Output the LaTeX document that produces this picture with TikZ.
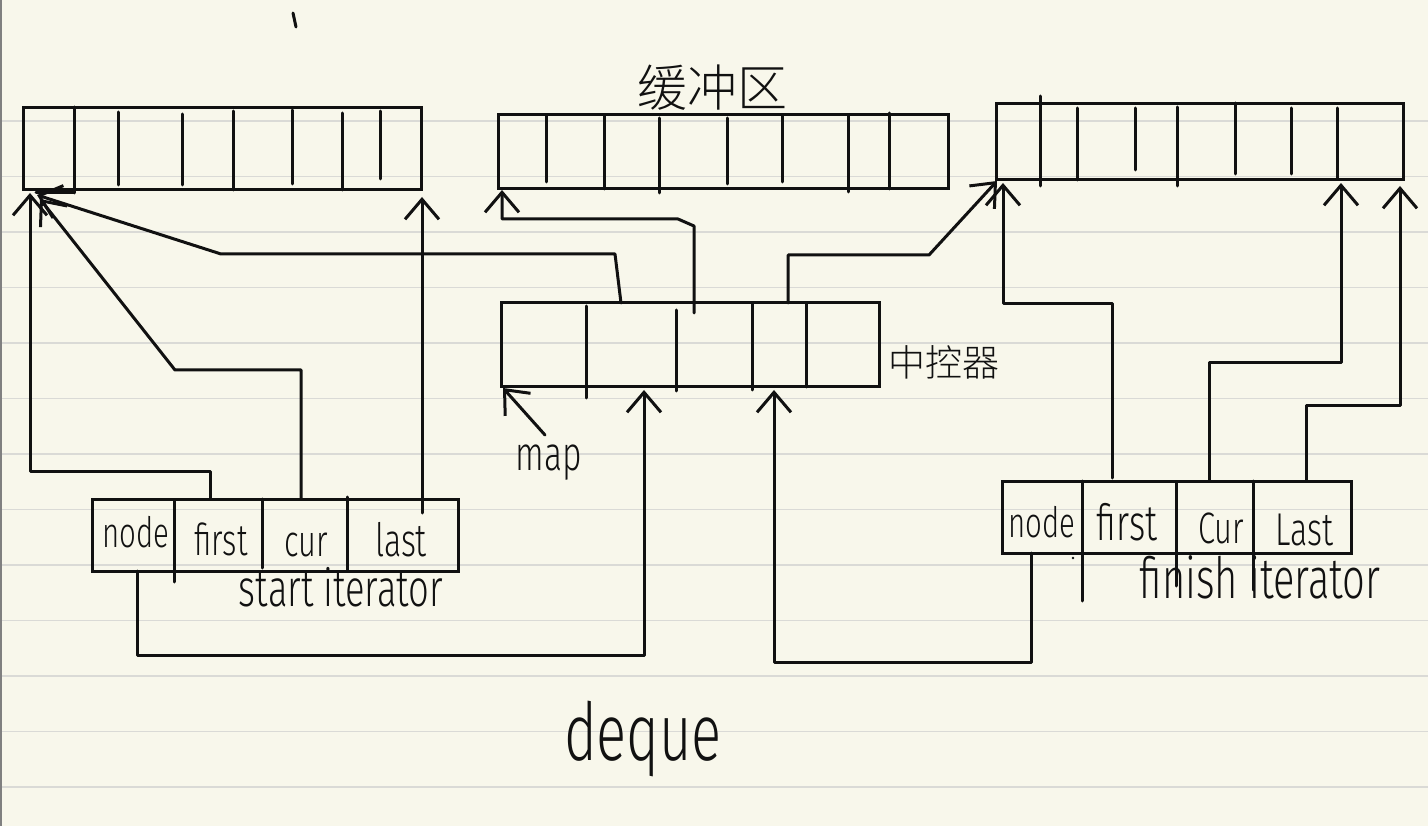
\documentclass[tikz,border=0pt]{standalone}
\usepackage{fontspec}
\setmainfont{Fira Sans}
\newfontfamily\hand{Fira Sans Light}[FakeStretch=0.7]
\newfontfamily\cjk{Noto Sans CJK SC Light}
\usetikzlibrary{arrows.meta}
\definecolor{paper}{RGB}{248,247,235}
\definecolor{rulecol}{RGB}{218,218,214}
\definecolor{ink}{RGB}{17,17,17}
\begin{document}
\begin{tikzpicture}[x=1pt,y=-1pt,
  inkline/.style={draw=ink, line width=3pt, line join=round, line cap=round},
  cellbox/.style={draw=ink, line width=3pt, anchor=north west, inner sep=0pt, outer sep=0pt},
  conn/.style={inkline, -{Straight Barb[length=20pt,width=34pt]}},
  lbl/.style={anchor=base, inner sep=0pt, text=ink},
]
\useasboundingbox (0,0) rectangle (1428,826);
\fill[paper] (0,0) rectangle (1428,826);
\foreach \k in {0,...,12} {
  \draw[rulecol, line width=1.4pt] (0,{121+55.5*\k}) -- (1428,{121+55.5*\k});
}
\draw[gray, line width=1.6pt] (0.8,0) -- (0.8,826);

% stray marks
\draw[inkline] (293,13) -- (296,27);
\fill[ink] (1073,558) circle (1.4pt);

% buffers
\node[cellbox, minimum width=398pt, minimum height=82pt] (buf1) at (23,108) {};
\node[cellbox, minimum width=450pt, minimum height=74pt] (buf2) at (498,115) {};
\node[cellbox, minimum width=407pt, minimum height=76pt] (buf3) at (996,104) {};
% map
\node[cellbox, minimum width=378pt, minimum height=84pt] (map) at (501,303) {};
% iterators
\node[cellbox, minimum width=366pt, minimum height=72pt] (startit) at (92,499) {};
\node[cellbox, minimum width=349pt, minimum height=72pt] (finishit) at (1002,481) {};

% dividers
\foreach \x/\a/\b in {74/107/193, 118/112/185, 182/114/185, 233/111/190, 292/110/184, 342/113/190, 380/111/179}
  \draw[inkline] (\x,\a) -- (\x,\b);
\draw[inkline] (36,193) -- (74,193);
\foreach \x/\a/\b in {546/115/182, 604/115/189, 659/118/193, 727/118/184, 782/115/182, 848/115/192, 889/113/189}
  \draw[inkline] (\x,\a) -- (\x,\b);
\foreach \x/\a/\b in {1040/96/186, 1077/108/180, 1135/108/170, 1177/107/186, 1235/103/174, 1291/108/174, 1337/108/178}
  \draw[inkline] (\x,\a) -- (\x,\b);
\foreach \x/\a/\b in {586/306/398, 676/310/391, 752/303/390, 806/303/387}
  \draw[inkline] (\x,\a) -- (\x,\b);
\foreach \x/\a/\b in {174/500/582, 262/499/568, 347/497/570}
  \draw[inkline] (\x,\a) -- (\x,\b);
\foreach \x/\a/\b in {1082/481/601, 1176/483/586, 1253/481/590}
  \draw[inkline] (\x,\a) -- (\x,\b);

% connector end points
\coordinate (b1A) at (30,193);
\coordinate (b1B) at (40,199);
\coordinate (b1C) at (37,195);
\coordinate (b1R) at (422,197);
\coordinate (b2L) at (502,190);
\coordinate (b3L) at (997,181);
\coordinate (b3A) at (1003,183);
\coordinate (b3B) at (1341,183);
\coordinate (b3C) at (1400,186);
\coordinate (mapSW) at (503,388);
\coordinate (mapA) at (644,390);
\coordinate (mapB) at (774,390);
\coordinate (mapT1) at (621,303);
\coordinate (mapT2) at (694,313);
\coordinate (mapT3) at (788,303);
\coordinate (sNode) at (137,571);
\coordinate (sFirst) at (210,499);
\coordinate (sCur) at (301,499);
\coordinate (sLast) at (422,513);
\coordinate (fNode) at (1031,553);
\coordinate (fFirst) at (1112,478);
\coordinate (fCur) at (1209,481);
\coordinate (fLast) at (1306,481);
\coordinate (mapLbl) at (545,435);

% connectors
\draw[conn] (sFirst) -- (210,471) -- (30,471) -- (b1A);
\draw[conn] (sCur) -- (301,370) -- (175,370) -- (b1B);
\draw[conn] (sLast) -- (b1R);
\draw[conn] (sNode) -- (137,655) -- (644,655) -- (mapA);
\draw[conn] (mapT1) -- (615,254) -- (221,254) -- (b1C);
\draw[conn] (mapT2) -- (694,226) -- (678,219) -- (502,219) -- (b2L);
\draw[conn] (mapT3) -- (788,255) -- (929,255) -- (b3L);
\draw[conn] (fFirst) -- (1112,304) -- (1003,304) -- (b3A);
\draw[conn] (fCur) -- (1209,363) -- (1341,363) -- (b3B);
\draw[conn] (fLast) -- (1306,406) -- (1400,406) -- (b3C);
\draw[conn] (fNode) -- (1031,662) -- (774,662) -- (mapB);
\draw[conn] (mapLbl) -- (mapSW);

% labels
\node[lbl, font=\cjk\fontsize{50}{50}\selectfont, anchor=center] (tbuf) at (712,88) {缓冲区};
\node[lbl, font=\cjk\fontsize{37}{37}\selectfont, anchor=center] (tmap) at (944,362) {中控器};
\node[lbl, font=\hand\fontsize{42}{42}\selectfont] (sn) at (136,547) {node};
\node[lbl, font=\hand\fontsize{44}{44}\selectfont] (sf) at (221,555) {first};
\node[lbl, font=\hand\fontsize{44}{44}\selectfont] (sc) at (306,556) {cur};
\node[lbl, font=\hand\fontsize{46}{46}\selectfont] (sl) at (401,556) {last};
\node[lbl, font=\hand\fontsize{52}{52}\selectfont] (sit) at (341,606) {start iterator};
\node[lbl, font=\hand\fontsize{48}{48}\selectfont] (tm) at (549,470) {map};
\node[lbl, font=\hand\fontsize{80}{80}\selectfont] (tdq) at (643,760) {deque};
\node[lbl, font=\hand\fontsize{42}{42}\selectfont] (fn) at (1042,537) {node};
\node[lbl, font=\hand\fontsize{50}{50}\selectfont] (ff) at (1127,540) {first};
\node[lbl, font=\hand\fontsize{44}{44}\selectfont] (fc) at (1221,543) {Cur};
\node[lbl, font=\hand\fontsize{46}{46}\selectfont] (fl) at (1304,545) {Last};
\node[lbl, font=\hand\fontsize{57}{57}\selectfont] (fit) at (1260,598) {finish iterator};
\end{tikzpicture}
\end{document}
